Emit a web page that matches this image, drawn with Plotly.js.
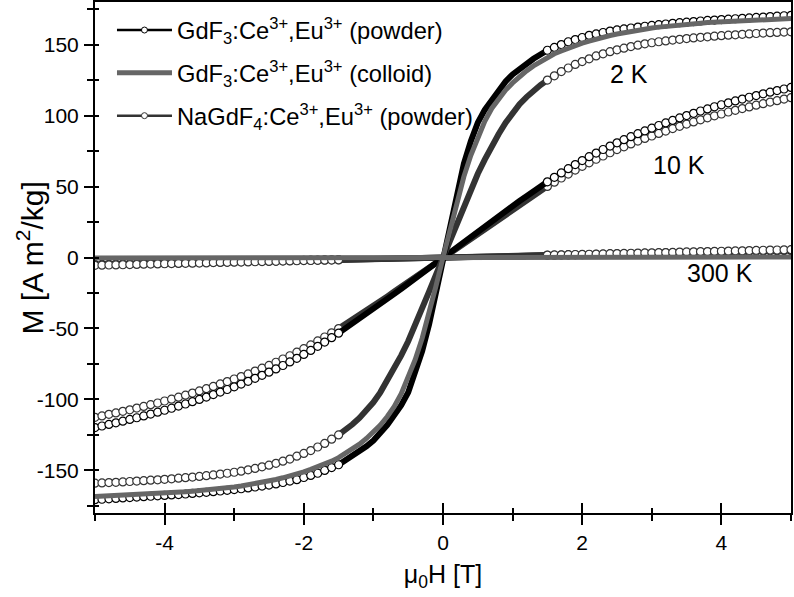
<!DOCTYPE html>
<html>
<head>
<meta charset="utf-8">
<script src="https://cdn.plot.ly/plotly-3.0.1.min.js"></script>
<style>
  body { margin: 0; background: #fff; }
  #grafico { width: 794px; height: 597px; }
</style>
</head>
<body>
<div id="grafico"></div>
<script>
// campo aplicado mu0H [T]
const campo = [
  -5, -4.9, -4.8, -4.7, -4.6, -4.5, -4.4, -4.3, -4.2, -4.1,
  -4, -3.9, -3.8, -3.7, -3.6, -3.5, -3.4, -3.3, -3.2, -3.1,
  -3, -2.9, -2.8, -2.7, -2.6, -2.5, -2.4, -2.3, -2.2, -2.1,
  -2, -1.9, -1.8, -1.7, -1.6, -1.5, -1.4, -1.3, -1.2, -1.1,
  -1, -0.9, -0.8, -0.7, -0.6, -0.5, -0.4, -0.3, -0.2, -0.1,
  0,
  0.1, 0.2, 0.3, 0.4, 0.5, 0.6, 0.7, 0.8, 0.9, 1,
  1.1, 1.2, 1.3, 1.4, 1.5, 1.6, 1.7, 1.8, 1.9, 2,
  2.1, 2.2, 2.3, 2.4, 2.5, 2.6, 2.7, 2.8, 2.9, 3,
  3.1, 3.2, 3.3, 3.4, 3.5, 3.6, 3.7, 3.8, 3.9, 4,
  4.1, 4.2, 4.3, 4.4, 4.5, 4.6, 4.7, 4.8, 4.9, 5
];

// GdF3:Ce,Eu polvo
const gdf3Polvo2K = [
  -170.6, -170.3, -170, -169.7, -169.4, -169.1, -168.8, -168.5, -168.2, -167.9,
  -167.6, -167.3, -167, -166.6, -166.2, -165.8, -165.4, -165, -164.5, -164,
  -163.5, -162.9, -162.3, -161.7, -161, -160.3, -159.5, -158.5, -157.5, -156.5,
  -155, -153.5, -152, -150, -148, -146, -143, -140, -137, -133,
  -129, -124, -118, -111, -104, -95, -82, -66, -47, -24,
  0,
  24, 47, 66, 82, 95, 104, 111, 118, 124, 129,
  133, 137, 140, 143, 146, 148, 150, 152, 153.5, 155,
  156.5, 157.5, 158.5, 159.5, 160.3, 161, 161.7, 162.3, 162.9, 163.5,
  164, 164.5, 165, 165.4, 165.8, 166.2, 166.6, 167, 167.3, 167.6,
  167.9, 168.2, 168.5, 168.8, 169.1, 169.4, 169.7, 170, 170.3, 170.6
];
const gdf3Polvo10K = [
  -119.8, -118.7, -117.6, -116.5, -115.3, -114.1, -112.9, -111.6, -110.3, -109,
  -107.6, -106.2, -104.7, -103.2, -101.6, -100, -98.3, -96.6, -94.8, -93,
  -91.1, -89.2, -87.2, -85.1, -83, -80.8, -78.5, -76.1, -73.6, -71,
  -68.3, -65.5, -62.6, -59.6, -56.5, -53.3, -50, -46.6, -43.2, -39.8,
  -36.3, -32.8, -29.2, -25.6, -22, -18.3, -14.7, -11, -7.4, -3.7,
  0,
  3.7, 7.4, 11, 14.7, 18.3, 22, 25.6, 29.2, 32.8, 36.3,
  39.8, 43.2, 46.6, 50, 53.3, 56.5, 59.6, 62.6, 65.5, 68.3,
  71, 73.6, 76.1, 78.5, 80.8, 83, 85.1, 87.2, 89.2, 91.1,
  93, 94.8, 96.6, 98.3, 100, 101.6, 103.2, 104.7, 106.2, 107.6,
  109, 110.3, 111.6, 112.9, 114.1, 115.3, 116.5, 117.6, 118.7, 119.8
];
const gdf3Polvo300K = [
  -5, -4.9, -4.8, -4.7, -4.6, -4.5, -4.4, -4.3, -4.2, -4.1,
  -4, -3.9, -3.8, -3.7, -3.6, -3.5, -3.4, -3.3, -3.2, -3.1,
  -3, -2.9, -2.8, -2.7, -2.6, -2.5, -2.4, -2.3, -2.2, -2.1,
  -2, -1.9, -1.8, -1.7, -1.6, -1.5, -1.4, -1.3, -1.2, -1.1,
  -1, -0.9, -0.8, -0.7, -0.6, -0.5, -0.4, -0.3, -0.2, -0.1,
  0,
  0.1, 0.2, 0.3, 0.4, 0.5, 0.6, 0.7, 0.8, 0.9, 1,
  1.1, 1.2, 1.3, 1.4, 1.5, 1.6, 1.7, 1.8, 1.9, 2,
  2.1, 2.2, 2.3, 2.4, 2.5, 2.6, 2.7, 2.8, 2.9, 3,
  3.1, 3.2, 3.3, 3.4, 3.5, 3.6, 3.7, 3.8, 3.9, 4,
  4.1, 4.2, 4.3, 4.4, 4.5, 4.6, 4.7, 4.8, 4.9, 5
];

// NaGdF4:Ce,Eu polvo
const nagdf4Polvo2K = [
  -159, -158.8, -158.6, -158.4, -158.1, -157.8, -157.5, -157.2, -156.9, -156.6,
  -156.3, -155.9, -155.5, -155.1, -154.7, -154.2, -153.7, -153.2, -152.6, -152,
  -151.3, -150.5, -149.6, -148.6, -147.5, -146.3, -145, -143.5, -142, -140,
  -138, -136, -133.5, -131, -128, -125, -121.5, -117.5, -113, -108,
  -102, -95, -87, -79, -69, -59, -48, -36, -24, -12,
  0,
  12, 24, 36, 48, 59, 69, 79, 87, 95, 102,
  108, 113, 117.5, 121.5, 125, 128, 131, 133.5, 136, 138,
  140, 142, 143.5, 145, 146.3, 147.5, 148.6, 149.6, 150.5, 151.3,
  152, 152.6, 153.2, 153.7, 154.2, 154.7, 155.1, 155.5, 155.9, 156.3,
  156.6, 156.9, 157.2, 157.5, 157.8, 158.1, 158.4, 158.6, 158.8, 159
];
const nagdf4Polvo10K = [
  -112.6, -111.6, -110.5, -109.5, -108.4, -107.3, -106.1, -104.9, -103.7, -102.5,
  -101.1, -99.8, -98.4, -97, -95.5, -94, -92.4, -90.8, -89.1, -87.4,
  -85.6, -83.9, -82, -80, -78, -76, -73.8, -71.5, -69.2, -66.7,
  -64.2, -61.6, -58.8, -56, -53.1, -50.1, -47, -43.8, -40.6, -37.4,
  -34.1, -30.8, -27.4, -24, -20.6, -17.2, -13.8, -10.4, -7, -3.5,
  0,
  3.5, 7, 10.4, 13.8, 17.2, 20.6, 24, 27.4, 30.8, 34.1,
  37.4, 40.6, 43.8, 47, 50.1, 53.1, 56, 58.8, 61.6, 64.2,
  66.7, 69.2, 71.5, 73.8, 76, 78, 80, 82, 83.9, 85.6,
  87.4, 89.1, 90.8, 92.4, 94, 95.5, 97, 98.4, 99.8, 101.1,
  102.5, 103.7, 104.9, 106.1, 107.3, 108.4, 109.5, 110.5, 111.6, 112.6
];
const nagdf4Polvo300K = [
  -5.5, -5.4, -5.3, -5.2, -5.1, -5, -4.9, -4.7, -4.6, -4.5,
  -4.4, -4.3, -4.2, -4.1, -4, -3.9, -3.8, -3.6, -3.5, -3.4,
  -3.3, -3.2, -3.1, -3, -2.9, -2.8, -2.7, -2.5, -2.4, -2.3,
  -2.2, -2.1, -2, -1.9, -1.8, -1.7, -1.6, -1.4, -1.3, -1.2,
  -1.1, -1, -0.9, -0.8, -0.7, -0.6, -0.5, -0.3, -0.2, -0.1,
  0,
  0.1, 0.2, 0.3, 0.5, 0.6, 0.7, 0.8, 0.9, 1, 1.1,
  1.2, 1.3, 1.4, 1.6, 1.7, 1.8, 1.9, 2, 2.1, 2.2,
  2.3, 2.4, 2.5, 2.7, 2.8, 2.9, 3, 3.1, 3.2, 3.3,
  3.4, 3.5, 3.6, 3.8, 3.9, 4, 4.1, 4.2, 4.3, 4.4,
  4.5, 4.6, 4.7, 4.9, 5, 5.1, 5.2, 5.3, 5.4, 5.5
];

// GdF3:Ce,Eu coloide (solo linea)
const gdf3Coloide2K = [
  -168.4, -168.2, -168, -167.8, -167.6, -167.4, -167.2, -167, -166.7, -166.4,
  -166.1, -165.8, -165.5, -165.1, -164.7, -164.3, -163.9, -163.4, -162.9, -162.3,
  -161.7, -161, -160.2, -159.4, -158.5, -157.5, -156.4, -155.2, -154, -152.5,
  -151, -149.3, -147.5, -145.5, -143.5, -141, -138, -135, -131.5, -127.5,
  -123, -118, -112, -105, -96, -85, -72, -57, -40, -20,
  0,
  20, 40, 57, 72, 85, 96, 105, 112, 118, 123,
  127.5, 131.5, 135, 138, 141, 143.5, 145.5, 147.5, 149.3, 151,
  152.5, 154, 155.2, 156.4, 157.5, 158.5, 159.4, 160.2, 161, 161.7,
  162.3, 162.9, 163.4, 163.9, 164.3, 164.7, 165.1, 165.5, 165.8, 166.1,
  166.4, 166.7, 167, 167.2, 167.4, 167.6, 167.8, 168, 168.2, 168.4
];
const campoColoide300K = [-5, -2.5, 0, 2.5, 5];
const gdf3Coloide300K = [-0.3, -0.15, 0, 0.15, 0.3];

const ticksX = [-4, -2, 0, 2, 4];
const textoTicksX = ['-4', '-2', '0', '2', '4'];
const ticksY = [-150, -100, -50, 0, 50, 100, 150];
const textoTicksY = ['-150', '-100', '-50', '0', '50', '100', '150'];

const nombres = [
  'GdF<sub>3</sub>:Ce<sup>3+</sup>,Eu<sup>3+</sup> (powder)',
  'GdF<sub>3</sub>:Ce<sup>3+</sup>,Eu<sup>3+</sup> (colloid)',
  'NaGdF<sub>4</sub>:Ce<sup>3+</sup>,Eu<sup>3+</sup> (powder)'
];
const etiquetasT = ['2 K', '10 K', '300 K'];
const posEtiquetasT = [[2.67, 129], [3.39, 65.5], [3.98, -10.6]];

const fuente = 'Liberation Sans, Arial, sans-serif';

function trazasPolvo(valores, color) {
  const trazas = [];
  // |H| < 1.5 T: puntos muy densos, se ven como banda oscura
  trazas.push({
    x: campo.slice(35, 66), y: valores.slice(35, 66),
    type: 'scatter', mode: 'lines',
    line: { color: color, width: 6 },
    showlegend: false, hoverinfo: 'skip'
  });
  for (const [a, b] of [[0, 36], [65, 101]]) {
    trazas.push({
      x: campo.slice(a, b), y: valores.slice(a, b),
      type: 'scatter', mode: 'lines+markers',
      line: { color: color, width: 1.5 },
      marker: { symbol: 'circle', size: 8, color: '#fff', line: { color: color, width: 1.2 } },
      showlegend: false
    });
  }
  return trazas;
}

function trazaColoide(x, y) {
  return {
    x: x, y: y, type: 'scatter', mode: 'lines',
    line: { color: '#666', width: 5 }, showlegend: false
  };
}

function trazaLeyenda(nombre, grupo, conMarcador, color, ancho) {
  return {
    x: [null], y: [null], type: 'scatter',
    mode: conMarcador ? 'lines+markers' : 'lines',
    name: nombre, legendgroup: grupo,
    line: { color: color, width: ancho },
    marker: { symbol: 'circle', size: 6, color: '#fff', line: { color: color, width: 1 } }
  };
}

const datos = [
  ...trazasPolvo(gdf3Polvo300K, '#000'),
  ...trazasPolvo(nagdf4Polvo300K, '#333'),
  ...trazasPolvo(nagdf4Polvo10K, '#333'),
  ...trazasPolvo(gdf3Polvo10K, '#000'),
  ...trazasPolvo(nagdf4Polvo2K, '#333'),
  ...trazasPolvo(gdf3Polvo2K, '#000'),
  trazaColoide(campo, gdf3Coloide2K),
  trazaColoide(campoColoide300K, gdf3Coloide300K),
  trazaLeyenda(nombres[0], 'a', true, '#000', 2.5),
  trazaLeyenda(nombres[1], 'b', false, '#666', 5),
  trazaLeyenda(nombres[2], 'c', true, '#333', 2.5),
  { x: [null], y: [null], xaxis: 'x2', yaxis: 'y2', showlegend: false }
];

const ejeBase = {
  showgrid: false, zeroline: false,
  showline: true, linecolor: '#000', linewidth: 2, mirror: true,
  tickcolor: '#000', tickwidth: 2,
  tickfont: { family: fuente, size: 21, color: '#000' }
};

const diseño = {
  width: 794, height: 597,
  margin: { l: 95, r: 3, t: 2, b: 84 },
  paper_bgcolor: '#fff', plot_bgcolor: '#fff',
  font: { family: fuente, color: '#000' },
  showlegend: true,
  legend: {
    x: 0.0244, y: 0.988, xanchor: 'left', yanchor: 'top',
    itemwidth: 55,
    bgcolor: 'rgba(0,0,0,0)', font: { family: fuente, size: 23.7, color: '#000' },
    tracegroupgap: 9
  },
  xaxis: {
    ...ejeBase, range: [-5, 5],
    tickvals: ticksX, ticktext: textoTicksX,
    ticks: 'outside', ticklen: 10,
    minor: { ticks: 'outside', dtick: 1, ticklen: 6, tickwidth: 2, tickcolor: '#000' },
    title: { text: 'μ<sub>0</sub>H [T]', font: { family: fuente, size: 25 }, standoff: 12 }
  },
  yaxis: {
    ...ejeBase, range: [-180, 180],
    tickvals: ticksY, ticktext: textoTicksY,
    ticks: 'outside', ticklen: 9, ticklabelstandoff: 1,
    minor: { ticks: 'outside', dtick: 25, ticklen: 6, tickwidth: 2, tickcolor: '#000' }
  },
  xaxis2: {
    overlaying: 'x', anchor: 'y', side: 'bottom', range: [-5, 5],
    showgrid: false, zeroline: false, showline: false, showticklabels: false,
    tickvals: ticksX, ticks: 'inside', ticklen: 10, tickwidth: 2, tickcolor: '#000',
    minor: { ticks: 'inside', dtick: 1, ticklen: 5, tickwidth: 2, tickcolor: '#000' }
  },
  yaxis2: {
    overlaying: 'y', anchor: 'x', side: 'left', range: [-180, 180],
    showgrid: false, zeroline: false, showline: false, showticklabels: false,
    tickvals: ticksY, ticks: 'inside', ticklen: 4, tickwidth: 2, tickcolor: '#000',
    minor: { ticks: 'inside', dtick: 25, ticklen: 4, tickwidth: 2, tickcolor: '#000' }
  },
  annotations: [
    ...etiquetasT.map((t, i) => ({
      x: posEtiquetasT[i][0], y: posEtiquetasT[i][1], xref: 'x', yref: 'y',
      text: t, showarrow: false,
      font: { family: fuente, size: 25, color: '#000' }
    })),
    // titulo del eje y como anotacion para poder acercarlo a las etiquetas
    {
      x: -0.0934, y: 0.5, xref: 'paper', yref: 'paper', xanchor: 'center', yanchor: 'middle',
      text: 'M [A m<sup>2</sup>/kg]', textangle: -90, showarrow: false,
      font: { family: fuente, size: 30, color: '#000' }
    }
  ]
};

Plotly.newPlot('grafico', datos, diseño, { staticPlot: true });
</script>
</body>
</html>
